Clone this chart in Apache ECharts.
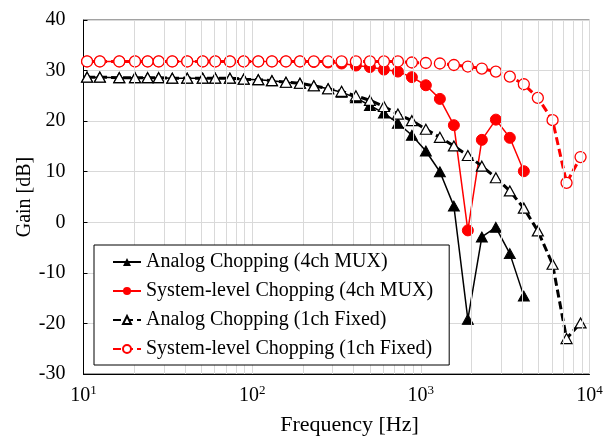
<!DOCTYPE html>
<html>
<head>
<meta charset="utf-8">
<script src="https://cdn.jsdelivr.net/npm/echarts@6/dist/echarts.min.js"></script>
<style>html,body{margin:0;padding:0;background:#fff;}#c{width:609px;height:439px;}</style>
</head>
<body>
<div id="c"></div>
<script>
const freq = [10.5, 12.5, 16.3, 20.2, 24.0, 27.9, 33.6, 41.2, 50.9, 60.4, 73.8, 89.1, 108.7, 131, 158.6, 192, 232, 282, 339, 412, 499, 604, 731, 885, 1071, 1297, 1570, 1900, 2300, 2785, 3370, 4080, 4940, 6040, 7310, 8850];
const analog4ch = [28.7, 28.7, 28.6, 28.6, 28.6, 28.6, 28.5, 28.5, 28.5, 28.5, 28.5, 28.3, 28.2, 28.0, 27.7, 27.5, 27.0, 26.4, 25.7, 24.6, 23.1, 21.6, 19.6, 17.2, 14.1, 10.0, 3.2, -19.2, -2.9, -1.0, -6.2, -14.6];
const system4ch = [31.8, 31.8, 31.8, 31.8, 31.8, 31.8, 31.8, 31.8, 31.8, 31.8, 31.8, 31.8, 31.8, 31.8, 31.8, 31.8, 31.7, 31.6, 31.4, 31.0, 30.7, 30.2, 29.8, 28.7, 27.1, 24.4, 19.2, -1.6, 16.3, 20.3, 16.7, 10.1];
const analog1ch = [28.7, 28.7, 28.6, 28.6, 28.6, 28.6, 28.5, 28.5, 28.5, 28.5, 28.5, 28.3, 28.2, 28.0, 27.7, 27.5, 27.0, 26.4, 25.9, 25.0, 24.1, 22.9, 21.4, 20.1, 18.4, 16.8, 15.1, 13.2, 11.1, 8.8, 6.2, 2.8, -1.7, -8.3, -23.0, -19.9];
const system1ch = [31.8, 31.8, 31.8, 31.8, 31.8, 31.8, 31.8, 31.8, 31.8, 31.8, 31.8, 31.8, 31.8, 31.8, 31.8, 31.8, 31.8, 31.8, 31.8, 31.8, 31.8, 31.8, 31.8, 31.6, 31.5, 31.4, 31.1, 30.8, 30.4, 29.8, 28.8, 27.3, 24.6, 20.2, 7.8, 12.9];
const seriesNames = ['Analog Chopping (4ch MUX)', 'System-level Chopping (4ch MUX)', 'Analog Chopping (1ch Fixed)', 'System-level Chopping (1ch Fixed)'];
const minorGrid = [20,30,40,50,60,70,80,90,200,300,400,500,600,700,800,900,2000,3000,4000,5000,6000,7000,8000,9000];

const FONT = "'Liberation Serif', 'Times New Roman', serif";
const pairs = arr => arr.map((v, i) => [freq[i], v]);
const RED = '#ff0000';

const chart = echarts.init(document.getElementById('c'), null, {renderer: 'canvas'});
chart.setOption({
  animation: false,
  backgroundColor: '#fff',
  grid: {left: 83.5, right: 19.5, top: 20, bottom: 65, show: true, borderColor: '#444', borderWidth: 1, outerBoundsMode: 'none', containLabel: false},
  xAxis: {
    type: 'log', logBase: 10, min: 10, max: 10000,
    name: 'Frequency [Hz]', nameLocation: 'middle', nameGap: 40, nameMoveOverlap: false,
    nameTextStyle: {fontFamily: FONT, fontSize: 22, color: '#000', padding: [0, 0, 0, 26]},
    axisLine: {show: true, onZero: false, lineStyle: {color: '#000', width: 1}},
    axisTick: {show: false},
    axisLabel: {
      margin: 10, color: '#000', fontFamily: FONT, fontSize: 20,
      formatter: v => '{b|10}{s|' + Math.round(Math.log10(v)) + '}',
      rich: {
        b: {fontFamily: FONT, fontSize: 20, color: '#000'},
        s: {fontFamily: FONT, fontSize: 13, color: '#000', verticalAlign: 'top', padding: [0, 0, 10, 0]}
      }
    },
    splitLine: {show: true, lineStyle: {color: '#d9d9d9', width: 1}}
  },
  yAxis: {
    type: 'value', min: -30, max: 40, interval: 10,
    name: 'Gain [dB]', nameLocation: 'middle', nameGap: 48.5, nameRotate: 90, nameMoveOverlap: false,
    nameTextStyle: {fontFamily: FONT, fontSize: 20, color: '#000'},
    axisLine: {show: true, onZero: false, lineStyle: {color: '#000', width: 1}},
    axisTick: {show: true, inside: true, length: 4, lineStyle: {color: '#000'}},
    axisLabel: {margin: 18, color: '#000', fontFamily: FONT, fontSize: 20},
    splitLine: {show: true, lineStyle: {color: '#d9d9d9', width: 1}}
  },
  legend: {
    orient: 'vertical', left: 94, top: 245, z: 50,
    data: seriesNames,
    backgroundColor: '#fff', borderColor: '#000', borderWidth: 1,
    padding: [7, 16, 6, 18],
    itemWidth: 28, itemHeight: 10, itemGap: 9,
    textStyle: {fontFamily: FONT, fontSize: 20, color: '#000'}
  },
  series: [
    {
      type: 'line', name: '_grid', data: [], z: 1, silent: true,
      markLine: {
        silent: true, symbol: ['none', 'none'], label: {show: false},
        lineStyle: {color: '#d9d9d9', width: 1, type: 'solid'},
        data: minorGrid.map(v => ({xAxis: v}))
      }
    },
    {
      type: 'line', name: seriesNames[0], data: pairs(analog4ch),
      symbol: 'triangle', symbolSize: [11, 10],
      lineStyle: {color: '#000', width: 1.5},
      itemStyle: {color: '#000', borderColor: '#000'}
    },
    {
      type: 'line', name: seriesNames[1], data: pairs(system4ch),
      symbol: 'circle', symbolSize: 11,
      lineStyle: {color: RED, width: 1.5},
      itemStyle: {color: RED, borderColor: RED}
    },
    {
      type: 'line', name: seriesNames[2], data: pairs(analog1ch),
      symbol: 'triangle', symbolSize: [11, 10],
      lineStyle: {color: '#000', width: 3, type: [8, 4]},
      itemStyle: {color: '#fff', borderColor: '#000', borderWidth: 1.2}
    },
    {
      type: 'line', name: seriesNames[3], data: pairs(system1ch),
      symbol: 'circle', symbolSize: 11,
      lineStyle: {color: RED, width: 3, type: [8, 4]},
      itemStyle: {color: '#fff', borderColor: RED, borderWidth: 1.3}
    }
  ]
});
</script>
</body>
</html>
